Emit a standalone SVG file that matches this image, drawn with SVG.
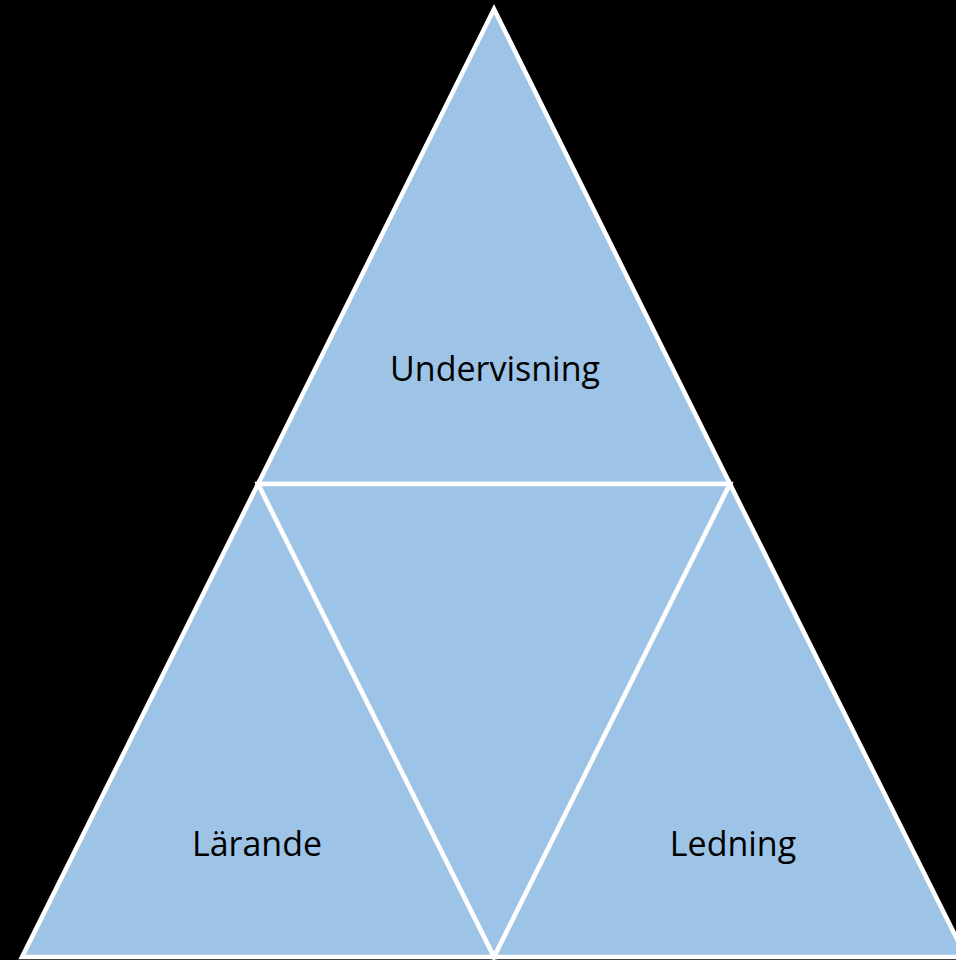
<svg xmlns="http://www.w3.org/2000/svg" width="956" height="960" viewBox="0 0 956 960">
<style>
.tri{fill:#9dc3e6;stroke:#ffffff;stroke-width:4.5;stroke-linejoin:miter}
.lbl{font-family:"Open Sans","Liberation Sans",sans-serif;font-size:34px;fill:#000000;text-anchor:middle}
</style>
<rect width="956" height="960" fill="#000000"/>
<g id="undervisning">
<polygon class="tri" points="494,9 730,484 258,484"/>
<text class="lbl" x="495" y="381">Undervisning</text>
</g>
<g id="center">
<polygon class="tri" points="258,484 730,484 494,957"/>
</g>
<g id="larande">
<polygon class="tri" points="258,484 494,957 22,957"/>
<text class="lbl" x="257" y="856">Lärande</text>
</g>
<g id="ledning">
<polygon class="tri" points="730,484 966,957 494,957"/>
<text class="lbl" x="733" y="856">Ledning</text>
</g>
<g id="connectors"></g>
</svg>
